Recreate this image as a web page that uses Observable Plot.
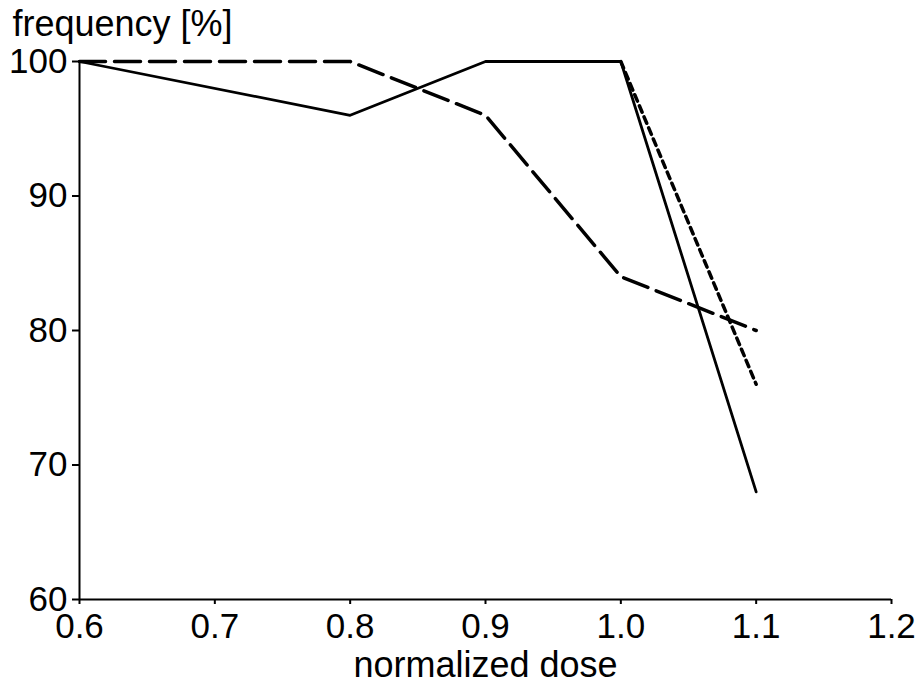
<!DOCTYPE html>
<html>
<head>
<meta charset="utf-8">
<script src="https://cdn.jsdelivr.net/npm/d3@7"></script>
<script src="https://cdn.jsdelivr.net/npm/@observablehq/plot@0.6"></script>
<style>
  html, body { margin: 0; padding: 0; background: #fff; }
  #chart svg { display: block; }
</style>
</head>
<body>
<div id="chart"></div>
<script>
const dose = [0.6, 0.8, 0.9, 1.0, 1.1];
const solidSeries = [100, 96, 100, 100, 68];
const longDashSeries = [100, 100, 96, 84, 80];
const shortDashSeries = [null, null, null, 100, 76];
const xTicks = [0.6, 0.7, 0.8, 0.9, 1.0, 1.1, 1.2];
const yTicks = [60, 70, 80, 90, 100];
const xLabel = "normalized dose";
const yLabel = "frequency [%]";

const rows = (ys) => dose.map((d, i) => ({x: d, y: ys[i]}));
const solid = rows(solidSeries);
const longDash = rows(longDashSeries);
const shortDash = rows(shortDashSeries);

const font = "'Liberation Sans', Arial, Helvetica, sans-serif";

const chart = Plot.plot({
  width: 916,
  height: 684,
  marginLeft: 79,
  marginRight: 25,
  marginTop: 61,
  marginBottom: 85,
  style: {fontFamily: font, fontSize: "35px", color: "#000", background: "#fff"},
  x: {domain: [0.6, 1.2]},
  y: {domain: [60, 100]},
  marks: [
    Plot.axisX({ticks: xTicks, tickFormat: d3.format(".1f"), tickSize: 5, tickPadding: 9, strokeWidth: 2, label: null, fontSize: 35}),
    Plot.axisY({ticks: yTicks, tickFormat: d => String(d), tickSize: 7, tickPadding: 5, strokeWidth: 2, label: null, fontSize: 35}),
    Plot.ruleX([0.6], {stroke: "#000", strokeWidth: 2}),
    Plot.ruleY([60], {stroke: "#000", strokeWidth: 2}),
    Plot.line(shortDash, {x: "x", y: "y", stroke: "#000", strokeWidth: 3.5, strokeDasharray: "7,5"}),
    Plot.line(longDash, {x: "x", y: "y", stroke: "#000", strokeWidth: 3.5, strokeDasharray: "26,9"}),
    Plot.line(solid, {x: "x", y: "y", stroke: "#000", strokeWidth: 2.8}),
    Plot.text([yLabel], {frameAnchor: "top-left", textAnchor: "start", lineAnchor: "middle", dx: -67, dy: -37, fontSize: 36, fill: "#000"}),
    Plot.text([xLabel], {frameAnchor: "bottom", textAnchor: "middle", lineAnchor: "middle", dy: 66, fontSize: 36, fill: "#000"})
  ]
});
document.getElementById("chart").appendChild(chart);
</script>
</body>
</html>
